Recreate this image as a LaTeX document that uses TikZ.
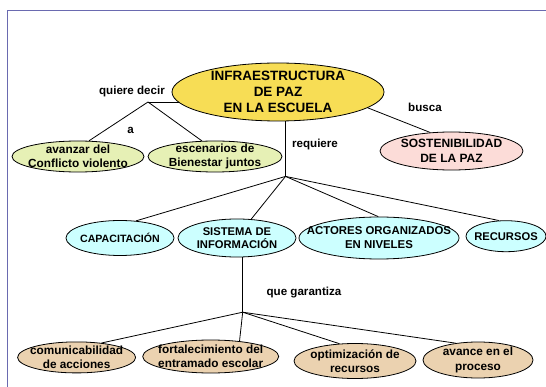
\documentclass[tikz,border=0pt]{standalone}
\usepackage{fontspec}
\setmainfont{Liberation Sans}
\usetikzlibrary{shapes.geometric,backgrounds}
\definecolor{frameblue}{HTML}{6A6AB0}
\definecolor{mainyellow}{HTML}{F7DD55}
\definecolor{lgreen}{HTML}{E6F0B5}
\definecolor{lpink}{HTML}{FCDCD8}
\definecolor{lcyan}{HTML}{CCFFFF}
\definecolor{ltan}{HTML}{EBD2B0}
\tikzset{
  ell/.style={ellipse, draw=black, line width=0.8pt, inner sep=0pt},
  txt/.style={align=center, font=\bfseries\fontsize{11.8}{14.5}\selectfont, inner sep=0pt},
  bigtxt/.style={align=center, font=\bfseries\fontsize{13.5}{16}\selectfont, inner sep=0pt},
  lbl/.style={font=\bfseries\fontsize{11.6}{14}\selectfont, inner sep=0pt},
  conn/.style={draw=black, line width=0.8pt},
}
\begin{document}
\begin{tikzpicture}[x=1pt,y=-1pt]
\useasboundingbox (0,0) rectangle (546,387);
% frame
\draw[frameblue, line width=1.3pt] (7.7,387) -- (7.7,10.4) -- (546,10.4);

% nodes
\node[ell, fill=mainyellow, minimum width=212pt, minimum height=58pt] (main) at (278,92) {};
\node[bigtxt] (mainT) at (main.center) {INFRAESTRUCTURA\\DE PAZ\\EN LA ESCUELA};

\node[ell, fill=lgreen, minimum width=132pt, minimum height=31pt] (avz) at (78,156.5) {};
\node[txt] (avzT) at (avz.center) {avanzar del\\Conflicto violento};
\node[ell, fill=lgreen, minimum width=134pt, minimum height=31pt] (esc) at (215,156.5) {};
\node[txt] (escT) at (esc.center) {escenarios de\\Bienestar juntos};
\node[ell, fill=lpink, minimum width=143pt, minimum height=38pt] (sos) at (451.5,151) {};
\node[txt, font=\bfseries\fontsize{12}{15}\selectfont] (sosT) at (sos.center) {SOSTENIBILIDAD\\DE LA PAZ};

\node[ell, fill=lcyan, minimum width=108pt, minimum height=35pt] (cap) at (120,238) {};
\node[txt, font=\bfseries\fontsize{10.6}{13}\selectfont] (capT) at (cap.center) {CAPACITACIÓN};
\node[ell, fill=lcyan, minimum width=118pt, minimum height=38pt] (sis) at (237,238) {};
\node[txt, font=\bfseries\fontsize{11.2}{13.5}\selectfont] (sisT) at (sis.center) {SISTEMA DE\\INFORMACIÓN};
\node[ell, fill=lcyan, minimum width=160pt, minimum height=42pt] (act) at (379,238) {};
\node[txt, font=\bfseries\fontsize{11.4}{14}\selectfont] (actT) at (act.center) {ACTORES ORGANIZADOS\\EN NIVELES};
\node[ell, fill=lcyan, minimum width=80pt, minimum height=31pt] (rec) at (506,236.2) {};
\node[txt, font=\bfseries\fontsize{11.2}{13}\selectfont] (recT) at (rec.center) {RECURSOS};

\node[ell, fill=ltan, minimum width=118pt, minimum height=31pt] (com) at (76.6,357.4) {};
\node[txt] (comT) at (com.center) {comunicabilidad\\de acciones};
\node[ell, fill=ltan, minimum width=136pt, minimum height=33pt] (fort) at (210.7,356.5) {};
\node[txt] (fortT) at (fort.center) {fortalecimiento del\\entramado escolar};
\node[ell, fill=ltan, minimum width=122pt, minimum height=35pt] (opt) at (355,361) {};
\node[txt] (optT) at (opt.center) {optimización de\\recursos};
\node[ell, fill=ltan, minimum width=110pt, minimum height=36pt] (ava) at (478,360) {};
\node[txt] (avaT) at (ava.center) {avance en el\\proceso};

% junctions
\coordinate (qd) at (148,102);
\coordinate (rq) at (285.5,176.4);
\coordinate (qg) at (242.7,312.2);

% labels
\node[lbl] (lqd) at (132,92) {quiere decir};
\node[lbl] (la) at (130.6,130) {a};
\node[lbl] (lbusca) at (425,107) {busca};
\node[lbl] (lreq) at (315,145) {requiere};
\node[lbl] (lqg) at (304,293) {que garantiza};

% connectors
\begin{scope}[on background layer]
\fill[white] (0,0) rectangle (546,387);
\draw[conn] (qd) -- (qd -| main.center);
\draw[conn] (qd) -- (avz.55);
\draw[conn] (qd) -- (esc.130);
\draw[conn] (main.-10) -- (sos.139);
\draw[conn] (rq) -- (rq |- main.center);
\draw[conn] (rq) -- (cap.47);
\draw[conn] (rq) -- (sis.53);
\draw[conn] (rq) -- (act.92);
\draw[conn] (rq) -- (rec.114);
\draw[conn] (qg) -- (qg |- sis.center);
\draw[conn] (qg) -- (com.30);
\draw[conn] (qg) -- (fort.28);
\draw[conn] (qg) -- (opt.132);
\draw[conn] (qg) -- (ava.143);
\end{scope}
\end{tikzpicture}
\end{document}
